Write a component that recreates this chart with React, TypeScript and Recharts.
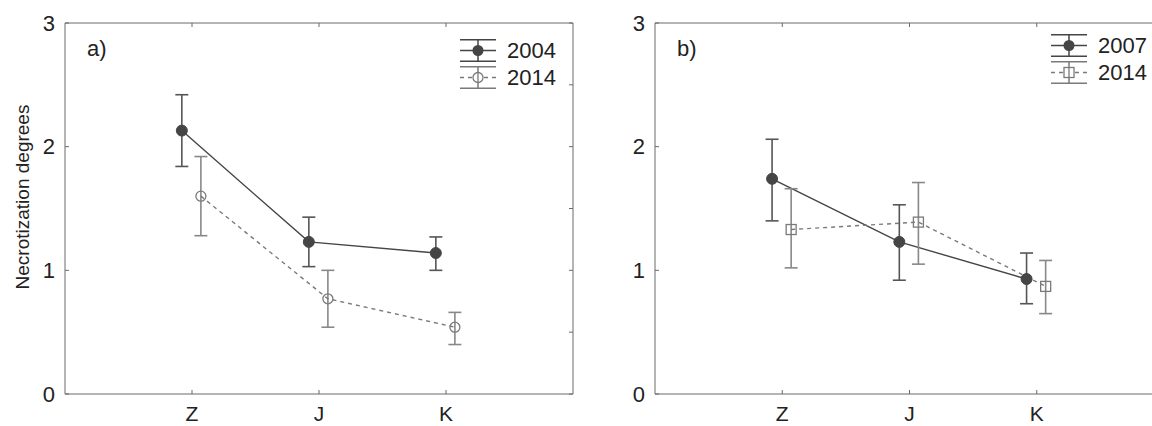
import React from "react";
import { ComposedChart, Line, XAxis, YAxis, ErrorBar } from "recharts";

// categories + tick values
const categories = ["Z", "J", "K"];
const catTicks = [1, 2, 3];
const yTicks = [0, 1, 2, 3];
const minorTicks = [0, 0.5, 1, 1.5, 2, 2.5, 3];

// panel a)
const a2004Mean = [2.13, 1.23, 1.14];
const a2004Low = [1.84, 1.03, 1.0];
const a2004High = [2.42, 1.43, 1.27];
const a2014Mean = [1.6, 0.77, 0.54];
const a2014Low = [1.28, 0.54, 0.4];
const a2014High = [1.92, 1.0, 0.66];

// panel b)
const b2007Mean = [1.74, 1.23, 0.93];
const b2007Low = [1.4, 0.92, 0.73];
const b2007High = [2.06, 1.53, 1.14];
const b2014Mean = [1.33, 1.39, 0.87];
const b2014Low = [1.02, 1.05, 0.65];
const b2014High = [1.66, 1.71, 1.08];

const DARK = "#454545";
const LIGHT = "#7a7a7a";
const FRAME = "#6a6a6a";
const TEXT = "#222";
const FONT = "'Liberation Sans', Arial, sans-serif";
const FS = 22;

const toRows = (mean: number[], low: number[], high: number[], shift: number) =>
  mean.map((m, i) => ({
    x: catTicks[i] + shift,
    y: m,
    err: [m - low[i], high[i] - m],
  }));

const FilledDot = (p: any) =>
  p.cx == null ? null : (
    <circle key={p.key} cx={p.cx} cy={p.cy} r={5.5} fill={DARK} stroke={DARK} />
  );
const OpenDot = (p: any) =>
  p.cx == null ? null : (
    <circle key={p.key} cx={p.cx} cy={p.cy} r={5} fill="none" stroke={LIGHT} strokeWidth={1.3} />
  );
const SquareDot = (p: any) =>
  p.cx == null ? null : (
    <rect key={p.key} x={p.cx - 5} y={p.cy - 5} width={10} height={10} fill="none" stroke={LIGHT} strokeWidth={1.3} />
  );

function LegendIcon({ marker, dashed }: { marker: string; dashed: boolean }) {
  const c = dashed ? LIGHT : DARK;
  return (
    <svg width={36} height={23} style={{ display: "block" }}>
      <line x1={0} y1={0.75} x2={36} y2={0.75} stroke={c} strokeWidth={1.5} />
      <line x1={0} y1={22.25} x2={36} y2={22.25} stroke={c} strokeWidth={1.5} />
      <line x1={18} y1={0} x2={18} y2={23} stroke={c} strokeWidth={1.5} />
      <line x1={0} y1={11.5} x2={36} y2={11.5} stroke={c} strokeWidth={1.3} strokeDasharray={dashed ? "4 4" : undefined} />
      {marker === "filled" && <circle cx={18} cy={11.5} r={5.5} fill={DARK} />}
      {marker === "open" && <circle cx={18} cy={11.5} r={5} fill="white" stroke={LIGHT} strokeWidth={1.3} />}
      {marker === "open" && <line x1={18} y1={6} x2={18} y2={17} stroke={LIGHT} strokeWidth={1.3} />}
      {marker === "square" && <rect x={13} y={6.5} width={10} height={10} fill="white" stroke={LIGHT} strokeWidth={1.3} />}
      {marker === "square" && <line x1={18} y1={6} x2={18} y2={17} stroke={LIGHT} strokeWidth={1.3} />}
    </svg>
  );
}

function Panel({ tag, left, margin, series, legendPos, rowGap }: any) {
  const W = 600;
  const H = 426;
  return (
    <div style={{ position: "absolute", left, top: 0, width: W, height: H }}>
      <ComposedChart width={W} height={H} margin={margin}>
        <XAxis
          type="number"
          dataKey="x"
          domain={[0, 4]}
          ticks={catTicks}
          interval={0}
          allowDataOverflow
          tickFormatter={(v: number) => categories[v - 1]}
          height={1}
          stroke={FRAME}
          tickSize={-4}
          tickMargin={16}
          tick={{ fill: TEXT, fontSize: 21, fontFamily: FONT }}
        />
        <XAxis
          xAxisId="top"
          orientation="top"
          type="number"
          dataKey="x"
          domain={[0, 4]}
          ticks={catTicks}
          interval={0}
          allowDataOverflow
          tickFormatter={() => ""}
          height={1}
          stroke={FRAME}
          tickSize={-4}
        />
        <YAxis
          type="number"
          domain={[0, 3]}
          ticks={yTicks}
          interval={0}
          allowDataOverflow
          width={1}
          stroke={FRAME}
          tickSize={-4}
          tickMargin={14}
          tick={{ fill: TEXT, fontSize: FS, fontFamily: FONT }}
        />
        <YAxis
          yAxisId="right"
          orientation="right"
          type="number"
          domain={[0, 3]}
          ticks={minorTicks}
          interval={0}
          allowDataOverflow
          tickFormatter={() => ""}
          width={1}
          stroke={FRAME}
          tickSize={-4}
        />
        <Line
          data={series[0].rows}
          xAxisId="top"
          yAxisId="right"
          dataKey="y"
          stroke="none"
          dot={false}
          activeDot={false}
          isAnimationActive={false}
        />
        {series.map((s: any) => (
          <Line
            key={s.name}
            data={s.rows}
            dataKey="y"
            type="linear"
            stroke={s.dashed ? LIGHT : DARK}
            strokeWidth={1.4}
            strokeDasharray={s.dashed ? "4 4" : undefined}
            dot={s.marker === "filled" ? FilledDot : s.marker === "open" ? OpenDot : SquareDot}
            activeDot={false}
            isAnimationActive={false}
          >
            <ErrorBar
              dataKey="err"
              direction="y"
              width={6.5}
              stroke={s.dashed ? "#888" : "#555"}
              strokeWidth={1.6}
              isAnimationActive={false}
            />
          </Line>
        ))}
      </ComposedChart>
      <div
        style={{
          position: "absolute",
          left: margin.left + 23,
          top: 36,
          fontSize: FS,
          lineHeight: "26px",
          color: TEXT,
          fontFamily: FONT,
        }}
      >
        {tag}
      </div>
      <div style={{ position: "absolute", left: legendPos[0], top: legendPos[1] }}>
        {series.map((s: any) => (
          <div
            key={s.name}
            style={{ display: "flex", alignItems: "center", height: 23, marginBottom: rowGap }}
          >
            <LegendIcon marker={s.marker} dashed={s.dashed} />
            <span style={{ marginLeft: 11, fontSize: FS, fontFamily: FONT, color: TEXT, lineHeight: "23px" }}>
              {s.name}
            </span>
          </div>
        ))}
      </div>
    </div>
  );
}

export default function App() {
  const seriesA = [
    { name: "2004", marker: "filled", dashed: false, rows: toRows(a2004Mean, a2004Low, a2004High, -0.08) },
    { name: "2014", marker: "open", dashed: true, rows: toRows(a2014Mean, a2014Low, a2014High, 0.07) },
  ];
  const seriesB = [
    { name: "2007", marker: "filled", dashed: false, rows: toRows(b2007Mean, b2007Low, b2007High, -0.08) },
    { name: "2014", marker: "square", dashed: true, rows: toRows(b2014Mean, b2014Low, b2014High, 0.07) },
  ];
  return (
    <div
      style={{
        position: "absolute",
        left: 0,
        top: 0,
        width: 1152,
        height: 426,
        overflow: "hidden",
        background: "#fff",
        fontFamily: FONT,
      }}
    >
      <Panel
        tag="a)"
        left={0}
        margin={{ top: 22, right: 26, bottom: 31, left: 64 }}
        series={seriesA}
        legendPos={[460, 39]}
        rowGap={4}
      />
      <Panel
        tag="b)"
        left={600}
        margin={{ top: 22, right: 35, bottom: 31, left: 54 }}
        series={seriesB}
        legendPos={[451, 34]}
        rowGap={4}
      />
      <div
        style={{
          position: "absolute",
          left: 23,
          top: 197,
          transform: "translate(-50%, -50%) rotate(-90deg)",
          whiteSpace: "nowrap",
          fontSize: 19,
          color: TEXT,
          fontFamily: FONT,
        }}
      >
        Necrotization degrees
      </div>
    </div>
  );
}
